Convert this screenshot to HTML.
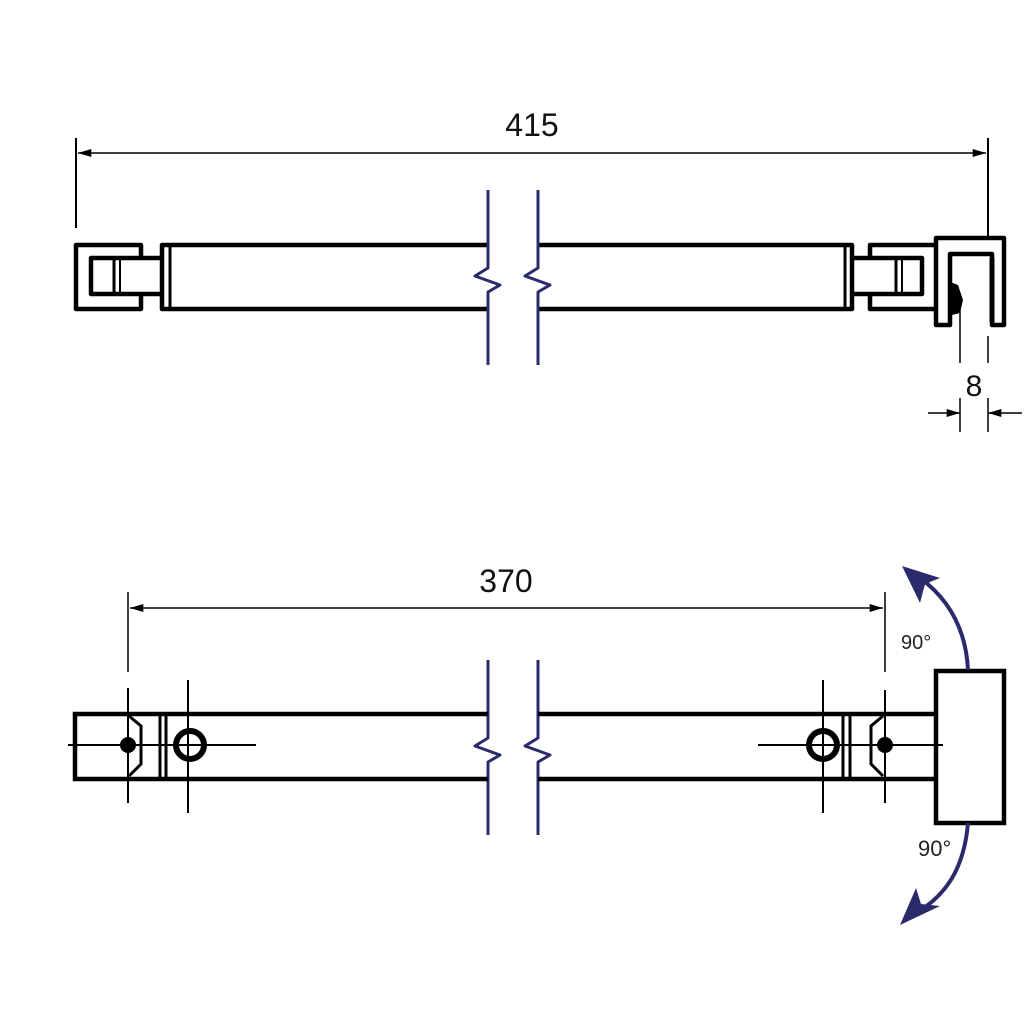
<!DOCTYPE html>
<html><head><style>html,body{margin:0;padding:0;background:#fff;}svg{display:block}</style></head>
<body>
<svg width="1024" height="1024" viewBox="0 0 1024 1024" xmlns="http://www.w3.org/2000/svg" font-family="Liberation Sans, sans-serif">
<defs>
<marker id="ah" viewBox="0 0 10 6" refX="10" refY="3" markerWidth="18" markerHeight="8" markerUnits="userSpaceOnUse" orient="auto-start-reverse"><path d="M0,0 L10,3 L0,6 z" fill="#000"/></marker>
</defs>
<!-- TOP VIEW -->
<g stroke="#000" fill="none">
<line x1="76" y1="138" x2="76" y2="228" stroke-width="2"/>
<line x1="988" y1="138" x2="988" y2="236" stroke-width="2"/>
<line x1="78" y1="153" x2="986" y2="153" stroke-width="1.5" marker-start="url(#ah)" marker-end="url(#ah)"/>
</g>
<text x="532" y="136" font-size="32" text-anchor="middle" fill="#111">415</text>
<g stroke="#000" stroke-width="4.5" fill="none" stroke-linejoin="round">
<path d="M141,258 L141,245 L76,245 L76,309 L141,309 L141,294"/>
<rect x="91" y="258" width="71" height="36"/>
<line x1="114" y1="258" x2="114" y2="294" stroke-width="3"/>
<line x1="120" y1="258" x2="120" y2="294" stroke-width="2"/>
<path d="M162,258 L162,245 L488,245 M488,309 L162,309 L162,294"/>
<line x1="170" y1="245" x2="170" y2="309" stroke-width="3"/>
<path d="M538,245 L852,245 L852,258 M852,294 L852,309 L538,309"/>
<line x1="845" y1="245" x2="845" y2="309" stroke-width="3"/>
<rect x="852" y="258" width="70" height="36"/>
<line x1="896" y1="258" x2="896" y2="294" stroke-width="3"/>
<line x1="902" y1="258" x2="902" y2="294" stroke-width="2"/>
<path d="M870,258 L870,245 L936,245 M936,309 L870,309 L870,294"/>
<path d="M936,325 L936,238 L1004,238 L1004,325 L992,325 L992,254 L950,254 L950,325 Z"/>
</g>
<path d="M950,282 L958,285 L963,300 L960,313 L952,315 Z" fill="#000"/>
<line x1="992" y1="258" x2="992" y2="322" stroke="#000" stroke-width="5"/>
<g stroke="#000" stroke-width="1.5">
<line x1="960" y1="310" x2="960" y2="363"/>
<line x1="988" y1="336" x2="988" y2="363"/>
<line x1="960" y1="398" x2="960" y2="432"/>
<line x1="988" y1="398" x2="988" y2="432"/>
<line x1="928" y1="413" x2="960" y2="413" marker-end="url(#ah)"/>
<line x1="1022" y1="413" x2="988" y2="413" marker-end="url(#ah)"/>
</g>
<text x="974" y="396" font-size="30" text-anchor="middle" fill="#111">8</text>
<g stroke="#2b2b6b" stroke-width="3" fill="none" stroke-linejoin="round">
<path d="M488,190 L488,268 L475,276 L500,285 L488,292 L488,365"/>
<path d="M538,190 L538,268 L525,276 L550,285 L538,292 L538,365"/>
<path d="M488,660 L488,738 L475,746 L500,755 L488,762 L488,835"/>
<path d="M538,660 L538,738 L525,746 L550,755 L538,762 L538,835"/>
</g>
<!-- BOTTOM VIEW -->
<g stroke="#000" fill="none">
<line x1="128" y1="592" x2="128" y2="672" stroke-width="1.5"/>
<line x1="885" y1="592" x2="885" y2="672" stroke-width="1.5"/>
<line x1="130" y1="608" x2="883" y2="608" stroke-width="1.5" marker-start="url(#ah)" marker-end="url(#ah)"/>
</g>
<text x="506" y="592" font-size="32" text-anchor="middle" fill="#111">370</text>
<g stroke="#000" stroke-width="4.5" fill="none">
<path d="M488,714 L75,714 L75,779 L488,779"/>
<path d="M538,714 L936,714 M936,779 L538,779"/>
<rect x="936" y="671" width="68" height="152"/>
</g>
<g stroke="#000" stroke-width="3" fill="none">
<line x1="160" y1="714" x2="160" y2="779"/><line x1="166" y1="714" x2="166" y2="779"/>
<path d="M129,716 L141,726 L141,764 L129,776"/>
<line x1="843" y1="714" x2="843" y2="779"/><line x1="850" y1="714" x2="850" y2="779"/>
<path d="M883,716 L871,726 L871,764 L883,776"/>
<circle cx="190" cy="745" r="14" stroke-width="6"/>
<circle cx="823" cy="745" r="14" stroke-width="6"/>
</g>
<g stroke="#000" stroke-width="2">
<line x1="68" y1="745" x2="256" y2="745"/>
<line x1="758" y1="745" x2="943" y2="745"/>
<line x1="128" y1="688" x2="128" y2="803"/>
<line x1="188" y1="680" x2="188" y2="813"/>
<line x1="823" y1="680" x2="823" y2="813"/>
<line x1="885" y1="690" x2="885" y2="803"/>
</g>
<circle cx="128" cy="745" r="8" fill="#000"/>
<circle cx="885" cy="745" r="8" fill="#000"/>
<g stroke="#2b2b6b" stroke-width="4" fill="none">
<path d="M968,670 C966,630 950,600 920,578"/>
<path d="M968,823 C964,870 945,895 918,912"/>
</g>
<path d="M902,566 L940,578 L925,584 L920,603 Z" fill="#2b2b6b"/>
<path d="M900,925 L916,888 L921,904 L940,906 Z" fill="#2b2b6b"/>
<text x="901" y="649" font-size="20" fill="#222">90°</text>
<text x="918" y="856" font-size="22" fill="#222">90°</text>
</svg>
</body></html>
